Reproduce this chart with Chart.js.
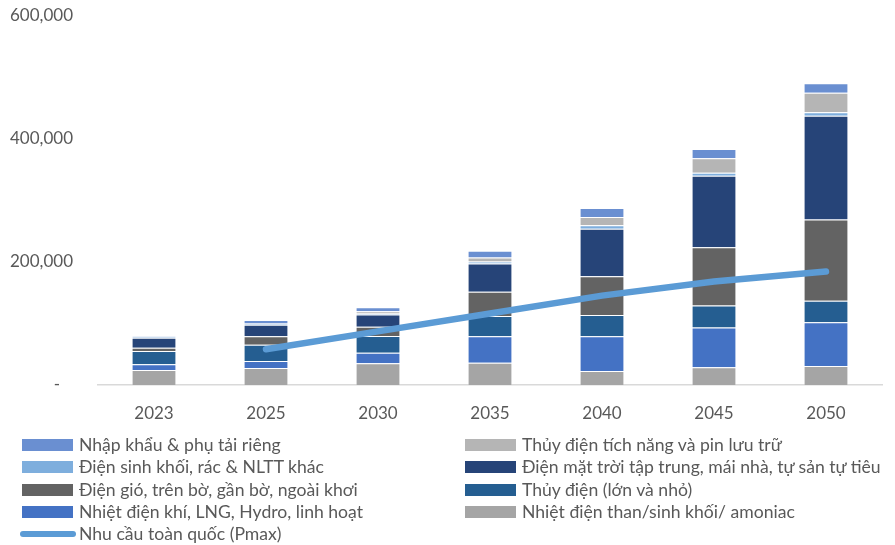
<!DOCTYPE html>
<html>
<head>
<meta charset="utf-8">
<script src="https://cdn.jsdelivr.net/npm/chart.js@4.4.0/dist/chart.umd.min.js"></script>
<style>
  html, body { margin: 0; padding: 0; background: #ffffff; }
  #wrap { position: relative; width: 895px; height: 545px; overflow: hidden; }
  #myChart { position: absolute; left: 0; top: -20px; }
  #legend { position: absolute; left: 0; top: 434px; width: 895px; font-family: Lato, sans-serif; font-size: 17.6px; color: #595959; }
  .item { position: absolute; height: 22px; line-height: 22px; white-space: nowrap; }
  .swatch { position: absolute; left: 0; top: 5px; width: 51px; height: 12px; }
  .swatch.line { left: -2px; width: 56px; top: 8px; height: 6px; border-radius: 3px; }
  .label { position: absolute; left: 57px; top: 0; }
</style>
</head>
<body>
<div id="wrap">
  <canvas id="myChart" width="895" height="565"></canvas>
  <div id="legend"></div>
</div>
<script>
const years = ['2023', '2025', '2030', '2035', '2040', '2045', '2050'];
const yTicks = [0, 200000, 400000, 600000];

// MW
const coalValues    = [24300, 27600, 35200, 36300, 22700, 28700, 30800];
const gasValues     = [9200, 11400, 17300, 42600, 56300, 64400, 70900];
const hydroValues   = [21600, 26400, 26900, 32900, 34500, 35700, 35000];
const windValues    = [5500, 13600, 15200, 39600, 62800, 94500, 132000];
const solarValues   = [16200, 18800, 19900, 45900, 77300, 116300, 168000];
const biomassValues = [1000, 1600, 1600, 3200, 5400, 4900, 6000];
const storageValues = [0, 500, 3700, 6500, 13500, 23200, 31300];
const importValues  = [1000, 5500, 6500, 10900, 14600, 15100, 15700];
const demandValues  = [null, 58000, 87000, 116000, 145000, 168000, 184000];

const names = {
    imp: 'Nhập khẩu & phụ tải riêng',
    storage: 'Thủy điện tích năng và pin lưu trữ',
    biomass: 'Điện sinh khối, rác & NLTT khác',
    solar: 'Điện mặt trời tập trung, mái nhà, tự sản tự tiêu',
    wind: 'Điện gió, trên bờ, gần bờ, ngoài khơi',
    hydro: 'Thủy điện (lớn và nhỏ)',
    gas: 'Nhiệt điện khí, LNG, Hydro, linh hoạt',
    coal: 'Nhiệt điện than/sinh khối/ amoniac',
    demand: 'Nhu cầu toàn quốc (Pmax)'
};

const colors = {
    imp: '#6A8FD1',
    storage: '#B5B5B5',
    biomass: '#7EAEDD',
    solar: '#264478',
    wind: '#636363',
    hydro: '#255E91',
    gas: '#4472C4',
    coal: '#A5A5A5',
    demand: '#5B9BD5'
};

const textColor = '#595959';

const barSet = (key, values) => ({
    type: 'bar',
    label: names[key],
    data: values,
    backgroundColor: colors[key],
    borderColor: 'rgba(255, 255, 255, 0.25)',
    borderWidth: 1,
    stack: 'supply',
    order: 1
});

const ctx = document.getElementById('myChart').getContext('2d');

// y tick padding also pads the top of the chart area, so the canvas sits 20px higher
new Chart(ctx, {
    data: {
        labels: years,
        datasets: [
            barSet('coal', coalValues),
            barSet('gas', gasValues),
            barSet('hydro', hydroValues),
            barSet('wind', windValues),
            barSet('solar', solarValues),
            barSet('biomass', biomassValues),
            barSet('storage', storageValues),
            barSet('imp', importValues),
            {
                type: 'line',
                label: names.demand,
                data: demandValues,
                borderColor: colors.demand,
                backgroundColor: colors.demand,
                borderWidth: 6.5,
                borderCapStyle: 'round',
                pointRadius: 0,
                tension: 0,
                fill: false,
                stack: 'demand',
                order: 0
            }
        ]
    },
    options: {
        responsive: false,
        animation: false,
        layout: {
            padding: { top: 0, right: 13, bottom: 0, left: 0 }
        },
        datasets: {
            bar: {
                categoryPercentage: 0.4,
                barPercentage: 1
            }
        },
        scales: {
            x: {
                stacked: true,
                afterFit: (scale) => { scale.height = 160; },
                border: { display: true, color: '#D9D9D9', width: 1.5 },
                grid: { display: false, drawTicks: false },
                ticks: {
                    color: textColor,
                    padding: 18,
                    font: { family: 'Lato', size: 17 }
                }
            },
            y: {
                stacked: true,
                min: 0,
                max: 600000,
                afterFit: (scale) => { scale.width = 98; },
                afterBuildTicks: (scale) => { scale.ticks = yTicks.map(v => ({ value: v })); },
                border: { display: false },
                grid: { display: false, drawTicks: false },
                ticks: {
                    color: textColor,
                    padding: 25,
                    font: { family: 'Lato', size: 17 },
                    callback: (v) => v === 0 ? '-   ' : v.toLocaleString('en-US')
                }
            }
        },
        plugins: {
            legend: { display: false },
            tooltip: { enabled: false }
        }
    }
});

// two column legend, row by row like the original
const legendOrder = ['imp', 'storage', 'biomass', 'solar', 'wind', 'hydro', 'gas', 'coal', 'demand'];
const legendEl = document.getElementById('legend');
legendOrder.forEach((key, i) => {
    const item = document.createElement('div');
    item.className = 'item';
    item.style.left = (i % 2 === 0 ? 22 : 465) + 'px';
    item.style.top = (Math.floor(i / 2) * 22.3) + 'px';
    const sw = document.createElement('div');
    sw.className = 'swatch' + (key === 'demand' ? ' line' : '');
    sw.style.background = colors[key];
    const lab = document.createElement('span');
    lab.className = 'label';
    lab.textContent = names[key];
    item.appendChild(sw);
    item.appendChild(lab);
    legendEl.appendChild(item);
});
</script>
</body>
</html>
